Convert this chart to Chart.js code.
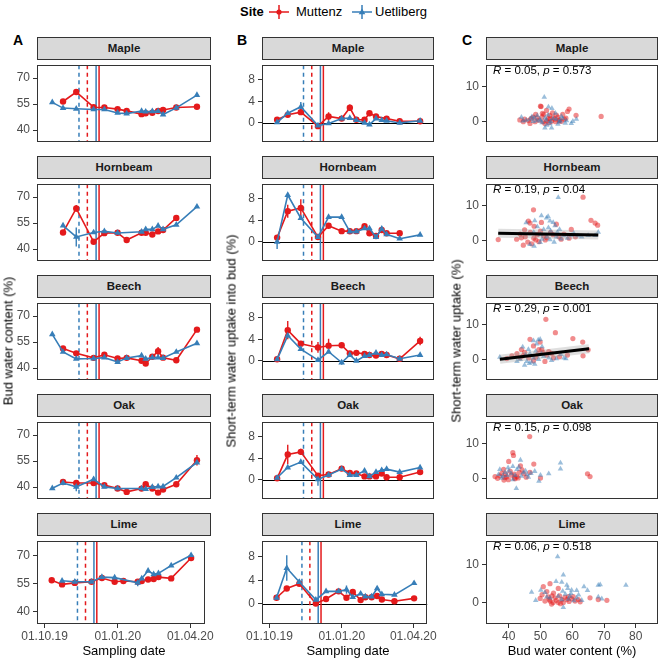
<!DOCTYPE html>
<html>
<head>
<meta charset="utf-8">
<script src="https://cdn.jsdelivr.net/npm/chart.js@4.4.1/dist/chart.umd.min.js"></script>
<style>
  body { margin: 0; background: #fff; font-family: "Liberation Sans", Arial, sans-serif; }
  #fig { position: relative; width: 660px; height: 659px; overflow: hidden; background: #fff; }
  #fig canvas { position: absolute; }
  .strip { position: absolute; background: #d9d9d9; border: 1px solid #333; box-sizing: border-box;
           font-weight: bold; font-size: 11.5px; text-align: center; line-height: 21px; color: #1a1a1a; }
  .txt { position: absolute; white-space: nowrap; color: #000; }
  .rot { transform: translate(-50%, -50%) rotate(-90deg); font-size: 13px; }
  .xt { transform: translate(-50%, -50%); font-size: 13px; }
  .letter { font-weight: bold; font-size: 14px; }
  .stat { font-size: 11.5px; color: #000; }
  .leg { font-size: 13px; line-height: 16px; top: 4px; }
</style>
</head>
<body>
<div id="fig"></div>
<script>
// ---- data ----
const species = ["Maple", "Hornbeam", "Beech", "Oak", "Lime"];
const sites = ["Muttenz", "Uetliberg"];

// days since 01.10.2019
const daysA = [9, 22, 38, 59, 72, 88, 99, 117, 122, 130, 137, 143, 159, 184];
const daysB = [9, 22, 38, 59, 72, 88, 98, 106, 116, 122, 130, 137, 143, 159, 184];
const dateTickDays = [0, 92, 183];
const dateTickLabels = ["01.10.19", "01.01.20", "01.04.20"];
const dashedDays = [51.4, 41.3];   // Muttenz, Uetliberg
const solidDays = [65.6, 62];      // Muttenz, Uetliberg

// A: bud water content (%)
const waterMapleM = [null, 56.5, 62, 53.2, 53, 52.1, 51.1, 49.2, 49.7, 50, 51, 51.6, 53, 53.5];
const waterMapleU = [56, 52.7, 52.3, 51.9, 51.9, 49.9, 49.5, 51, 50.6, 50.8, 50.9, 49, 52.8, 60.2];
const waterHornbeamM = [null, 49.6, 63.5, 44.2, 49.2, 49.4, 45.2, 49.4, 49.4, 48.4, 50.2, 51, 58, null];
const waterHornbeamU = [null, 53.6, 47, 49.6, 50.3, 49.3, null, 50, 51.4, 51.4, 53.4, 51.4, 54, 64.5];
const waterBeechM = [null, 51.3, 48.5, 45.9, 47.7, 45.5, 45.9, 44.2, 42.6, 46.5, 49.7, 46, 44.5, 62.2];
const waterBeechU = [59.5, 49.3, 45.3, 45.5, 46, 43.5, 45.8, 47.2, 45.3, 46, 46, 45.8, 49.3, 54.3];
const waterOakM = [null, 42.9, 42.3, 42.3, 41.1, 39.2, 37.2, 39.1, 41.6, 39.2, 36.8, 38.6, 41.6, 55.5];
const waterOakU = [39.3, 42.3, 40.1, 44.5, 40.1, 39.2, null, 39.2, 38.8, 40, 40.3, 40.3, 45.4, 54.2];
const waterLimeM = [56.6, 54.4, 55.2, 55.8, 57.8, 55.8, 56.2, 55.8, 56.2, 57, 57.3, 58.3, 57.6, 68.5];
const waterLimeU = [null, 56.3, 55.8, 55.8, 58.3, 58, null, 55.2, 57.5, 61.7, 59.8, 60.3, 64.5, 70];

// B: short-term water uptake into bud (%)
const uptakeMapleM = [0.6, 1.5, 2.0, -0.6, 1.2, 0.8, 2.8, 0.6, 0.6, 1.8, 1.2, null, 0.8, 0.3, 0.3];
const uptakeMapleU = [0.1, 1.8, 3.0, -0.5, -0.1, 0.8, 0.9, 0.5, 0.0, -0.3, 0.8, 0.5, 0.4, 0.0, 0.4];
const uptakeHornbeamM = [0.8, 5.7, 6.3, 0.9, 3.0, 2.0, 2.0, 2.0, 2.9, 1.6, 1.1, 2.2, 1.6, 1.6, null];
const uptakeHornbeamU = [0.0, 8.7, 4.4, 0.9, 4.6, 4.6, 1.9, 1.9, 2.5, 2.5, 0.9, 2.4, 1.4, 0.6, 1.3];
const uptakeBeechM = [0.3, 5.7, 3.2, 2.5, 2.8, 2.9, 1.4, 1.5, 1.3, 1.1, 1.0, 1.3, 1.1, 0.4, 3.7];
const uptakeBeechU = [0.3, 4.7, 2.2, 0.15, 1.7, -0.3, 1.1, 0.0, 0.9, 1.1, 1.5, 1.1, 1.2, 0.4, 1.1];
const uptakeOakM = [0.3, 4.7, 5.2, 0.8, 1.0, 2.1, 1.3, 1.2, 0.65, 0.65, 0.65, 1.2, 0.5, 0.5, 1.45];
const uptakeOakU = [0.4, 2.3, 3.3, 0.1, 0.9, 2.0, 0.9, 0.9, 1.7, 0.65, 1.45, 1.8, 2.0, 1.45, 2.3];
const uptakeLimeM = [1.0, 2.6, 3.4, 0.0, 0.8, 2.1, 1.0, 2.0, 0.6, 1.1, 1.1, 1.3, 0.7, 0.4, 0.9];
const uptakeLimeU = [1.0, 6.1, 3.7, 0.65, 2.1, 2.1, 2.4, 1.1, 1.7, 1.2, 1.2, 2.6, 1.6, 1.5, 3.5];

// error bars: [species, site, index, half-width]
const errBarsA = [
  ["Maple", "M", 13, 1.5], ["Maple", "M", 7, 1.5],
  ["Hornbeam", "U", 2, 5.5], ["Hornbeam", "M", 2, 2],
  ["Beech", "M", 10, 2.5],
  ["Oak", "M", 13, 3], ["Oak", "U", 2, 2.5], ["Oak", "U", 3, 1.5],
  ["Lime", "U", 7, 1.8], ["Lime", "M", 11, 1.5], ["Lime", "U", 2, 1.5]
];
const errBarsB = [
  ["Maple", "U", 2, 0.9], ["Maple", "M", 4, 0.8], ["Maple", "M", 6, 0.6],
  ["Hornbeam", "U", 0, 1.3], ["Hornbeam", "M", 1, 1.2], ["Hornbeam", "M", 2, 1.6],
  ["Hornbeam", "U", 3, 0.3], ["Hornbeam", "M", 6, 0.6], ["Hornbeam", "U", 11, 0.6],
  ["Beech", "M", 1, 1.7], ["Beech", "M", 3, 1.0], ["Beech", "M", 4, 1.3],
  ["Beech", "M", 14, 0.8], ["Beech", "U", 5, 0.4],
  ["Oak", "M", 1, 1.8], ["Oak", "U", 3, 1.2], ["Oak", "M", 2, 0.6],
  ["Lime", "U", 1, 2.2], ["Lime", "U", 2, 0.5], ["Lime", "U", 6, 0.7]
];

// C: [bud water content, uptake] pairs
const scatMapleM = [[43.5,0.6],[46.2,0.4],[47.7,1.4],[50,4.5],[50.6,2.5],[51.9,3.3],[52.9,1.9],[54.5,0.8],[55.5,1.4],[56.6,0.2],[58.5,3.0],[59,3.7],[61.2,1.9],[69.1,1.6],[49,1.2],[51.4,-0.4],[53.5,0.2],[46.7,-0.4],[52.4,1],[56,0.6],[50.2,4.4],[51,2.2],[53,0.9],[48.3,0.1],[55,2],[44.6,0.1],[52,0.3],[57.5,0.8],[50.5,1.5],[54,1.2],[48.5,2.2],[49.5,0.5],[53.8,2.6],[55.8,0.3],[47,1],[50.8,0.1],[52.7,-0.2],[54.8,0.1],[57,2.2],[58,1.1],[45,0.8]];
const scatMapleU = [[51.2,7.1],[52.5,4.3],[53.6,3.9],[44,1.4],[46.7,0.8],[48.8,0.4],[51.4,-1.7],[53.5,-1.7],[56,0],[58.2,0.4],[59.7,-0.4],[61.3,0.8],[55,0.8],[49.8,0.8],[52.4,2],[47.7,0.2],[56.6,1.6],[50.5,-0.2],[54,1],[45.5,0.5],[53,-0.5],[57,1],[49,1.8],[51.8,0.5],[55.5,-0.6],[48,1.2],[47.3,1.5],[50,0.3],[51.5,1.2],[53.2,0.2],[54.7,2.5],[56.2,0.4],[57.8,-0.3],[60.2,0.2],[44.5,0.3],[52,-0.9]];
const scatHornbeamM = [[36.7,0.4],[47.8,8.9],[46.2,5.7],[46.7,5.1],[50.3,5.3],[55,4.8],[59.7,3.3],[65.9,5.9],[67.2,5.1],[68,4.5],[63.4,12.5],[43.6,2],[45.2,1.2],[46.8,2.5],[47.9,0.8],[49,1.8],[51,1.5],[53.2,2.5],[55.8,1.2],[57.4,2],[59,0.8],[44.6,-1.2],[46,-0.3],[48.5,0.3],[45,3.2],[50,2.8],[52,0.9],[47.2,-0.8],[42.5,0.5],[44,0.9],[48,4.2],[49.5,-0.2],[51.5,0.3],[54,1.8],[56.5,0.5],[61,1.2]];
const scatHornbeamU = [[50.3,7.2],[51.9,6.6],[53,5.7],[52.4,7],[54,5.3],[49,4.1],[51,3.3],[53.2,2.9],[55.3,2.5],[57.4,1.5],[59.7,1.6],[61.8,1.5],[65,1.6],[67.2,1.6],[68.2,2.5],[46.7,-1],[49.9,-0.4],[53,0.4],[55,1.2],[47.9,2.5],[48.2,5.8],[45.5,5.2],[52,1.2],[50.5,0.5],[56.5,0.6],[54.3,-0.3],[55.6,12.4],[50,1.8],[52.5,3.8],[54.6,4.4],[56,3.3],[58.5,0.8],[60.5,2.2],[63,1.2],[48,-1.5]];
const scatBeechM = [[54.7,7.8],[60.2,6.1],[63.3,5.1],[63.4,1.2],[65,2.9],[46.7,5.9],[47.8,4],[49.9,5.1],[50.4,3],[49.3,1.8],[42.6,1.8],[41,1.2],[45,2.2],[46.3,0.6],[52.6,2.4],[49.5,3],[51.4,-0.4],[54.1,0.6],[58.5,1.4],[43.6,0.7],[47.8,-0.2],[39.4,0.4],[51.7,11.6],[44.5,1.2],[48.5,0.8],[50.8,2.2],[52,1.4],[53.5,1.9],[56,0.9],[44,3]];
const scatBeechU = [[49.3,5.7],[49.9,5.9],[47.8,5.5],[44.4,3.7],[46.2,3],[45.3,1.4],[46.7,1.8],[47.8,0.6],[45.7,-0.4],[45,-1.5],[37.2,0.8],[43.6,0.2],[52.6,0.6],[56.4,1.6],[57.4,0.6],[58,0.4],[49.4,0.2],[42.6,-0.4],[51,1],[48.5,2.5],[46.5,-1],[48.8,4.6],[50.5,3.8],[47.2,-0.6],[48.2,-1.2],[50.3,1.8],[53.5,-0.1],[55,0.4]];
const scatOakM = [[35.7,0.7],[38.4,2.75],[40,5],[41.3,7.5],[41.5,6.7],[43.7,3.75],[46.7,1.9],[47.9,4.25],[40.9,1.1],[38.8,0.4],[37.2,0.9],[42.6,0.7],[44.8,1.5],[50,0.25],[64.8,1.5],[65.6,0.7],[39.9,-0.2],[42,0.1],[43.3,1.9],[46.6,12.1],[36.5,0.2],[39,1.5],[41.8,0.3],[37.8,1.6],[39.3,0.6],[40.5,2.2],[41.8,1.4],[43,0.3],[44.2,2.6],[45.5,0.5],[38.5,-0.3]];
const scatOakU = [[43.7,5.4],[40,2.3],[37.2,2.75],[38.8,1.9],[41.3,3.6],[42.6,2.75],[45.3,2.3],[45.8,1.25],[50,1.1],[52.6,1.5],[56.3,4.6],[56.3,2.9],[49.5,-0.6],[37.8,0.25],[41.3,-0.2],[42.4,-2.7],[39.5,1],[44,0.8],[47,1.6],[38.2,0.8],[39.8,3.2],[40.8,1.5],[42,1],[43.2,3.4],[44.6,1.8],[46.2,0.5],[48.2,2.2],[36.8,1.3]];
const scatLimeM = [[53,5],[55.6,3.75],[50.9,4.2],[52,2.9],[49.9,1.1],[51.4,0.4],[53,0.4],[54.6,1.25],[55.6,0],[56.7,0.8],[58.3,0.8],[59.8,1],[60.9,0.4],[61.9,0.8],[65.6,1.25],[68.2,0.8],[70.9,0.6],[54.1,2.5],[57.2,0],[53.5,-0.4],[56,1.8],[52.4,1.5],[58.8,1.6],[50.5,2.1],[52.8,0.8],[54,0],[55,0.6],[56.3,-0.3],[57.7,1.4],[59,0.3],[60.3,1.6],[62.5,0.2],[53.6,1.8]];
const scatLimeU = [[55.4,12.1],[57.2,7.3],[54.9,5.6],[47.2,2.75],[50.1,3.3],[51.4,2.7],[56.7,5.4],[58.3,4.6],[58.6,3.75],[59.8,3.3],[61.4,3.2],[63.7,4.2],[64.8,3.2],[68.2,4.6],[68.8,4.75],[76.9,4.6],[59.3,1.7],[61.4,1.25],[63,0.6],[68.2,1.5],[69.3,1],[57.2,-1.25],[56.7,0.8],[55.6,1.7],[53,1.25],[57.8,2.2],[58.8,0.9],[59.6,2.4],[60.5,0.5],[62,2],[57,3],[52,1.5],[48.5,0.6]];

// regression fits shown in C: [x0, x1], [y0, y1]
const fitX = { Hornbeam: [36.7, 68.2], Beech: [37.2, 65.3] };
const fitY = { Hornbeam: [2.2, 1.7], Beech: [0.2, 3.2] };
const statLabels = [["0.05", "0.573"], ["0.19", "0.04"], ["0.29", "0.001"], ["0.15", "0.098"], ["0.06", "0.518"]];

// ---- lookup tables ----
const waterData = { Maple: [waterMapleM, waterMapleU], Hornbeam: [waterHornbeamM, waterHornbeamU],
  Beech: [waterBeechM, waterBeechU], Oak: [waterOakM, waterOakU], Lime: [waterLimeM, waterLimeU] };
const uptakeData = { Maple: [uptakeMapleM, uptakeMapleU], Hornbeam: [uptakeHornbeamM, uptakeHornbeamU],
  Beech: [uptakeBeechM, uptakeBeechU], Oak: [uptakeOakM, uptakeOakU], Lime: [uptakeLimeM, uptakeLimeU] };
const scatData = { Maple: [scatMapleM, scatMapleU], Hornbeam: [scatHornbeamM, scatHornbeamU],
  Beech: [scatBeechM, scatBeechU], Oak: [scatOakM, scatOakU], Lime: [scatLimeM, scatLimeU] };

// ---- layout ----
const RED = "#E41A1C", BLUE = "#377EB8";
const RED_A = "rgba(228,26,28,0.5)", BLUE_A = "rgba(55,126,184,0.5)";
const colX = { A: [37, 211], B: [262, 434], C: [486, 658] };
const stripTops = [37, 156, 275, 394, 513];
const STRIP_H = 22, PANEL_H = 89, YAXW = 40;

Chart.defaults.font.family = "'Liberation Sans', Arial, sans-serif";
Chart.defaults.font.size = 12;
Chart.defaults.color = "#4d4d4d";

const fig = document.getElementById("fig");

function addText(html, cls, left, top) {
  const d = document.createElement("div");
  d.className = "txt " + cls;
  d.style.left = left + "px";
  d.style.top = top + "px";
  d.innerHTML = html;
  fig.appendChild(d);
  return d;
}

const panelDeco = {
  id: "panelDeco",
  beforeDatasetsDraw(chart, args, o) {
    const { ctx, chartArea: a, scales: { x, y } } = chart;
    ctx.save();
    ctx.beginPath();
    ctx.rect(a.left, a.top, a.right - a.left, a.bottom - a.top);
    ctx.clip();
    if (o.zero) {
      const py = Math.round(y.getPixelForValue(0)) + 0.5;
      ctx.strokeStyle = "#000"; ctx.lineWidth = 1.2; ctx.setLineDash([]);
      ctx.beginPath(); ctx.moveTo(a.left, py); ctx.lineTo(a.right, py); ctx.stroke();
    }
    (o.vlines || []).forEach(v => {
      const px = x.getPixelForValue(v.day);
      ctx.strokeStyle = v.color; ctx.lineWidth = 1.5; ctx.setLineDash(v.dash);
      ctx.beginPath(); ctx.moveTo(px, a.top); ctx.lineTo(px, a.bottom); ctx.stroke();
    });
    ctx.setLineDash([]);
    (o.errs || []).forEach(e => {
      const px = x.getPixelForValue(e.x);
      ctx.strokeStyle = e.color; ctx.lineWidth = 1.4;
      ctx.beginPath();
      ctx.moveTo(px, y.getPixelForValue(e.y - e.e));
      ctx.lineTo(px, y.getPixelForValue(e.y + e.e));
      ctx.stroke();
    });
    ctx.restore();
  },
  afterDraw(chart) {
    const { ctx, chartArea: a } = chart;
    ctx.save();
    ctx.strokeStyle = "#333"; ctx.lineWidth = 1;
    ctx.strokeRect(Math.round(a.left) + 0.5, Math.round(a.top) + 0.5,
      Math.round(a.right - a.left) - 1, Math.round(a.bottom - a.top) - 1);
    ctx.restore();
  }
};

function makeChart(col, row, datasets, ys, xs, deco) {
  const [x0, x1] = colX[col];
  const last = row === 4;
  const ptop = stripTops[row] + STRIP_H;
  const cv = document.createElement("canvas");
  const w = (x1 - x0) + YAXW + 4;
  const h = PANEL_H + 4 + (last ? 26 : 4);
  cv.width = w; cv.height = h;
  cv.style.left = (x0 - YAXW) + "px";
  cv.style.top = (ptop - 4) + "px";
  cv.style.width = w + "px"; cv.style.height = h + "px";
  fig.appendChild(cv);
  new Chart(cv, {
    type: "line",
    data: { datasets },
    options: {
      animation: false, responsive: false, maintainAspectRatio: false,
      layout: { padding: { top: 4, right: 4, left: 0, bottom: last ? 0 : 4 } },
      plugins: { legend: { display: false }, tooltip: { enabled: false }, panelDeco: deco },
      scales: {
        x: {
          type: "linear", min: xs.min, max: xs.max, display: last,
          afterBuildTicks: s => { s.ticks = xs.ticks.map(v => ({ value: v })); },
          afterFit: s => { s.height = last ? 26 : 0; },
          grid: { drawOnChartArea: false, tickLength: 4, color: "#333", lineWidth: 1 },
          border: { display: false },
          ticks: { padding: 1, color: "#4d4d4d", font: { size: 12 }, maxRotation: 0, callback: xs.label }
        },
        y: {
          type: "linear", min: ys.min, max: ys.max,
          afterBuildTicks: s => { s.ticks = ys.ticks.map(v => ({ value: v })); },
          afterFit: s => { s.width = YAXW; },
          grid: { drawOnChartArea: false, tickLength: 4, color: "#333", lineWidth: 1 },
          border: { display: false },
          ticks: { padding: 3, color: "#4d4d4d", font: { size: 12 } }
        }
      }
    },
    plugins: [panelDeco]
  });
}

function seriesPoints(days, vals) {
  return days.map((d, i) => ({ x: d, y: vals[i] })).filter(p => p.y !== null);
}

function lineSet(days, vals, site) {
  const c = site === 0 ? RED : BLUE;
  return {
    data: seriesPoints(days, vals), borderColor: c, backgroundColor: c, borderWidth: 1.6,
    pointStyle: site === 0 ? "circle" : "triangle", pointRadius: site === 0 ? 3.2 : 3.8,
    pointBorderWidth: 0, tension: 0, spanGaps: true
  };
}

const dateLabel = v => { const i = dateTickDays.indexOf(v); return i >= 0 ? dateTickLabels[i] : ""; };
const dateAxis = { min: -9.5, max: 201, ticks: dateTickDays, label: dateLabel };
const vlines = [
  { day: dashedDays[1], color: BLUE, dash: [4, 3.5] },
  { day: dashedDays[0], color: RED, dash: [4, 3.5] },
  { day: solidDays[1], color: BLUE, dash: [] },
  { day: solidDays[0], color: RED, dash: [] }
];

function errList(list, sp, days, table) {
  return list.filter(e => e[0] === sp).map(e => {
    const s = e[1] === "M" ? 0 : 1;
    return { x: days[e[2]], y: table[sp][s][e[2]], e: e[3], color: s === 0 ? RED : BLUE };
  });
}

species.forEach((sp, r) => {
  // strips
  ["A", "B", "C"].forEach(col => {
    const [x0, x1] = colX[col];
    const st = document.createElement("div");
    st.className = "strip";
    st.style.left = x0 + "px"; st.style.top = stripTops[r] + "px";
    st.style.width = (x1 - x0) + "px"; st.style.height = (STRIP_H + 1) + "px";
    st.textContent = sp;
    fig.appendChild(st);
  });

  // A
  makeChart("A", r,
    [lineSet(daysA, waterData[sp][1], 1), lineSet(daysA, waterData[sp][0], 0)],
    { min: 33.2, max: 77.5, ticks: [40, 55, 70] }, dateAxis,
    { vlines, errs: errList(errBarsA, sp, daysA, waterData) });

  // B
  makeChart("B", r,
    [lineSet(daysB, uptakeData[sp][1], 1), lineSet(daysB, uptakeData[sp][0], 0)],
    { min: -3.5, max: 10.7, ticks: [0, 4, 8] }, dateAxis,
    { vlines, zero: true, errs: errList(errBarsB, sp, daysB, uptakeData) });

  // C
  const cds = [];
  if (fitX[sp]) {
    const fp = fitX[sp].map((x, i) => ({ x, y: fitY[sp][i] }));
    cds.push({ data: fp, borderColor: "#000", borderWidth: 3, pointRadius: 0 });
    cds.push({ data: fp, borderColor: "rgba(150,150,150,0.3)", borderWidth: 9, pointRadius: 0 });
  }
  cds.push({ data: scatData[sp][1].map(p => ({ x: p[0], y: p[1] })), showLine: false,
    pointStyle: "triangle", pointRadius: 3.2, pointBorderWidth: 0, backgroundColor: BLUE_A, borderColor: BLUE_A });
  cds.push({ data: scatData[sp][0].map(p => ({ x: p[0], y: p[1] })), showLine: false,
    pointStyle: "circle", pointRadius: 2.6, pointBorderWidth: 0, backgroundColor: RED_A, borderColor: RED_A });
  makeChart("C", r, cds,
    { min: -5.65, max: 16.2, ticks: [0, 10] },
    { min: 32.85, max: 87, ticks: [40, 50, 60, 70, 80], label: v => String(v) },
    {});

  const ptop = stripTops[r] + STRIP_H;
  addText("<i>R</i> = " + statLabels[r][0] + ", <i>p</i> = " + statLabels[r][1], "stat", 493, ptop + 5);
});

// panel letters
addText("A", "letter", 13, 32);
addText("B", "letter", 237, 32);
addText("C", "letter", 462, 32);

// axis titles
addText("Bud water content (%)", "rot", 8, 341);
addText("Short-term water uptake into bud (%)", "rot", 231, 341);
addText("Short-term water uptake (%)", "rot", 456, 341);
addText("Sampling date", "xt", 124, 650);
addText("Sampling date", "xt", 348, 650);
addText("Bud water content (%)", "xt", 572, 650);

// legend
addText("<b>Site</b>", "leg", 240, 4);
addText('<svg width="22" height="16"><line x1="1" y1="8" x2="21" y2="8" stroke="' + RED + '" stroke-width="1.5"/>' +
  '<line x1="11" y1="1" x2="11" y2="15" stroke="' + RED + '" stroke-width="1.5"/><circle cx="11" cy="8" r="2.6" fill="' + RED + '"/></svg>',
  "leg", 268, 4);
addText(sites[0], "leg", 296, 4);
addText('<svg width="22" height="16"><line x1="1" y1="8" x2="21" y2="8" stroke="' + BLUE + '" stroke-width="1.5"/>' +
  '<line x1="11" y1="1" x2="11" y2="15" stroke="' + BLUE + '" stroke-width="1.5"/><polygon points="11,4.5 14.3,10.2 7.7,10.2" fill="' + BLUE + '"/></svg>',
  "leg", 351, 4);
addText(sites[1], "leg", 375, 4);
</script>
</body>
</html>
